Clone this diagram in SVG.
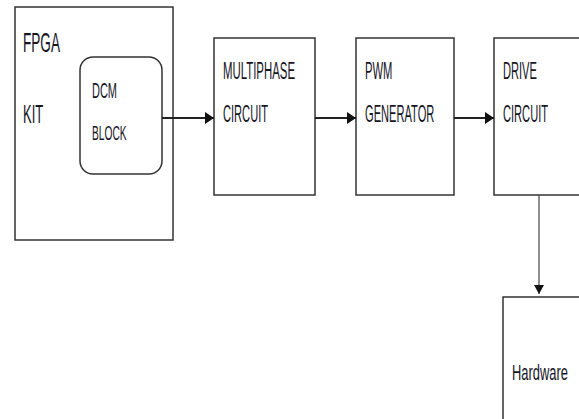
<svg xmlns="http://www.w3.org/2000/svg" width="579" height="419" viewBox="0 0 579 419">
<style>
.box{fill:#fff;stroke:#333;stroke-width:1.5}
text{font-family:"Liberation Sans",Arial,sans-serif;fill:#15151f}
.c{stroke:#222;stroke-width:2;fill:none}
.v{stroke:#444;stroke-width:1.2;fill:none}
</style>
<defs>
<marker id="ah" markerUnits="userSpaceOnUse" markerWidth="10" markerHeight="12" refX="9" refY="6" orient="auto">
<path d="M0,0 L9,6 L0,12 Z" fill="#111"/>
</marker>
<marker id="av" markerUnits="userSpaceOnUse" markerWidth="10" markerHeight="12" refX="9" refY="5" orient="auto">
<path d="M0,0 L9,5 L0,10 Z" fill="#111"/>
</marker>
</defs>
<rect width="579" height="419" fill="#fff"/>
<g id="fpga">
<rect class="box" x="15" y="7" width="158" height="233"/>
<text transform="translate(23,52) scale(1,2.05)" font-size="13.6">FPGA</text>
<text transform="translate(23,123) scale(1,2.05)" font-size="13">KIT</text>
</g>
<g id="dcm">
<rect class="box" x="80" y="57" width="82" height="117" rx="13"/>
<text transform="translate(92,98) scale(1,1.95)" font-size="11">DCM</text>
<text transform="translate(92,140) scale(1,1.95)" font-size="10.2">BLOCK</text>
</g>
<g id="multiphase">
<rect class="box" x="214" y="38" width="101" height="157"/>
<text transform="translate(223,79) scale(1,2.15)" font-size="11.4">MULTIPHASE</text>
<text transform="translate(223,122) scale(1,2.15)" font-size="11.1">CIRCUIT</text>
</g>
<g id="pwm">
<rect class="box" x="356" y="38" width="98" height="157"/>
<text transform="translate(365,79) scale(1,2.15)" font-size="11.2">PWM</text>
<text transform="translate(365,122) scale(1,2.15)" font-size="11.1">GENERATOR</text>
</g>
<g id="drive">
<rect class="box" x="494" y="38" width="100" height="157"/>
<text transform="translate(503,79) scale(1,2.15)" font-size="11.1">DRIVE</text>
<text transform="translate(503,122) scale(1,2.15)" font-size="11.1">CIRCUIT</text>
</g>
<g id="hardware">
<rect class="box" x="503" y="297" width="90" height="130"/>
<text transform="translate(512,380) scale(1,1.65)" font-size="12.9">Hardware</text>
</g>
<g id="connectors">
<line class="c" x1="162" y1="118" x2="214" y2="118" marker-end="url(#ah)"/>
<line class="c" x1="315" y1="118" x2="356" y2="118" marker-end="url(#ah)"/>
<line class="c" x1="454" y1="118" x2="494" y2="118" marker-end="url(#ah)"/>
<line class="v" x1="539" y1="195" x2="539" y2="294" marker-end="url(#av)"/>
</g>
</svg>
